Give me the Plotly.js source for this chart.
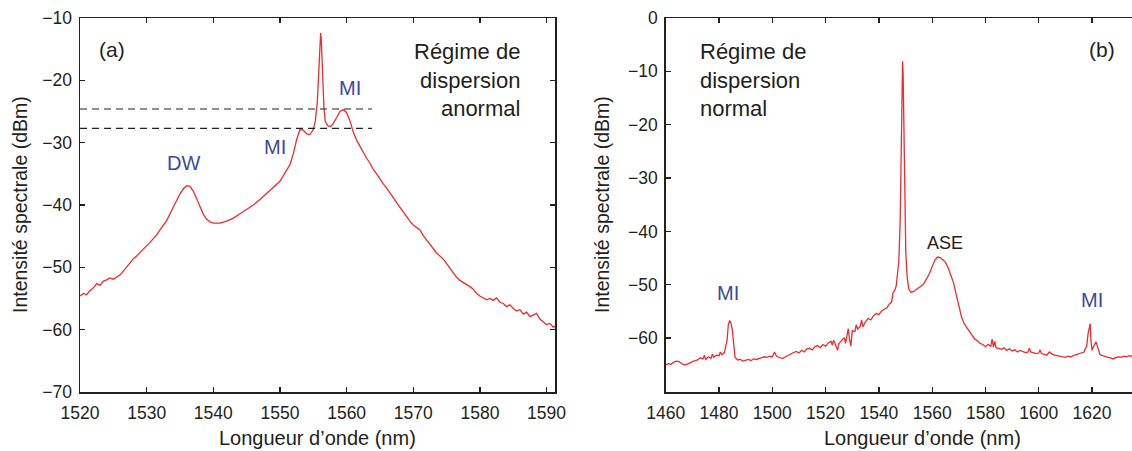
<!DOCTYPE html>
<html>
<head>
<meta charset="utf-8">
<script src="https://cdn.plot.ly/plotly-3.0.1.min.js"></script>
<style>html,body{margin:0;padding:0;background:#fff;}#chart{width:1132px;height:451px;}</style>
</head>
<body>
<div id="chart"></div>
<script>
// ---- Panel (a): anomalous dispersion ----
const wlA = [1520,1520.5,1521,1521.5,1522,1522.5,1523,1523.5,1524,1524.5,1525,1525.5,1526,1526.5,1527,1527.5,1528,1528.5,1529,1529.5,1530,1530.5,1531,1531.5,1532,1532.5,1533,1533.5,1534,1534.5,1535,1535.5,1536,1536.5,1537,1537.5,1538,1538.5,1539,1539.5,1540,1541,1542,1543,1544,1545,1546,1547,1548,1549,1550,1550.5,1551,1551.5,1552,1552.5,1553,1553.5,1554,1554.5,1555,1555.3,1555.6,1555.8,1556,1556.1,1556.2,1556.4,1556.6,1556.8,1557.2,1557.6,1558,1558.5,1559,1559.5,1560,1560.5,1561,1561.5,1562,1562.5,1563,1563.5,1564,1564.5,1565,1565.5,1566,1566.5,1567,1567.5,1568,1568.5,1569,1569.5,1570,1570.5,1571,1571.5,1572,1572.5,1573,1573.5,1574,1574.5,1575,1575.5,1576,1576.5,1577,1577.5,1578,1578.5,1579,1579.5,1580,1580.5,1581,1581.5,1582,1582.5,1583,1583.5,1584,1584.5,1585,1585.5,1586,1586.5,1587,1587.5,1588,1588.5,1589,1589.5,1590,1590.5,1591,1591.3];
const dbA = [-54.6,-54.2,-54.4,-53.7,-53.3,-52.6,-52.9,-52.2,-52.0,-51.7,-51.9,-51.6,-51.2,-50.6,-50.0,-49.3,-48.6,-48.2,-47.6,-47.1,-46.6,-46.0,-45.4,-44.8,-44.0,-43.3,-42.5,-41.4,-40.3,-39.2,-38.2,-37.4,-36.9,-37.0,-37.8,-39.0,-40.3,-41.5,-42.3,-42.7,-42.9,-42.9,-42.6,-42.1,-41.4,-40.7,-40.0,-39.1,-38.1,-37.2,-36.2,-35.3,-34.5,-33.5,-31.8,-29.5,-27.9,-28.0,-28.6,-28.7,-27.9,-26.5,-23.5,-19.5,-13.5,-12.4,-13.5,-19.5,-24.5,-26.6,-27.3,-27.4,-26.9,-26.0,-25.0,-24.7,-25.2,-26.5,-28.3,-29.6,-30.6,-31.6,-32.5,-33.3,-34.3,-35.0,-35.9,-36.6,-37.3,-38.0,-38.8,-39.6,-40.4,-41.0,-41.8,-42.6,-43.2,-43.6,-44.0,-44.9,-45.6,-46.3,-47.0,-47.7,-48.2,-48.7,-49.4,-50.1,-50.8,-51.6,-52.1,-52.4,-52.8,-53.1,-53.5,-54.2,-54.6,-54.9,-55.2,-55.0,-55.3,-54.9,-55.6,-55.8,-56.3,-56.0,-56.6,-57.0,-56.8,-57.5,-57.2,-57.9,-57.6,-57.4,-58.3,-58.8,-59.2,-59.0,-59.6,-59.4];
const dashLevelsA = [-24.6, -27.7];
const dashSpanA = [1520, 1563.8];

// ---- Panel (b): normal dispersion ----
const wlB = [1460,1461,1462,1463,1464,1465,1466,1467,1468,1469,1470,1471,1472,1473,1474,1474.5,1475,1476,1477,1477.5,1478,1479,1480,1480.5,1481,1482,1482.5,1483,1483.5,1484,1484.5,1485,1485.5,1486,1487,1488,1489,1490,1491,1492,1493,1494,1495,1496,1497,1498,1499,1500,1500.8,1501.5,1502,1503,1504,1505,1506,1507,1508,1509,1510,1511,1512,1513,1514,1515,1516,1517,1518,1519,1520,1521,1522,1522.5,1523,1524,1524.5,1525,1526,1527,1527.5,1528,1528.5,1529,1529.5,1530,1531,1531.5,1532,1533,1533.5,1534,1535,1536,1537,1538,1539,1540,1541,1542,1543,1544,1544.8,1545.3,1546,1546.5,1547,1547.5,1548,1548.4,1548.7,1548.9,1549.1,1549.4,1549.7,1550.1,1550.6,1551.2,1552,1553,1554,1555,1556,1557,1558,1559,1560,1561,1562,1563,1564,1565,1566,1567,1568,1569,1570,1571,1572,1573,1574,1575,1576,1577,1578,1579,1580,1581,1582,1582.5,1583,1583.5,1584,1585,1586,1587,1588,1589,1590,1591,1592,1593,1594,1595,1596,1596.5,1597,1598,1599,1600,1600.5,1601,1602,1603,1604,1605,1606,1607,1608,1609,1610,1611,1612,1613,1614,1615,1616,1617,1617.5,1618,1618.5,1619,1619.3,1619.6,1620,1620.5,1621,1621.5,1622,1622.5,1623,1624,1625,1626,1627,1628,1629,1630,1631,1632,1633,1634,1635];
const dbB = [-65.0,-64.8,-64.9,-64.5,-64.3,-64.4,-64.8,-65.0,-64.9,-64.6,-64.4,-64.2,-64.1,-63.7,-63.9,-63.2,-64.0,-63.5,-63.8,-63.0,-63.6,-63.2,-63.3,-62.6,-63.1,-62.7,-61.5,-60.5,-57.5,-56.7,-57.2,-58.5,-61.0,-63.6,-64.1,-64.0,-64.3,-64.1,-64.0,-64.2,-63.9,-64.0,-63.8,-63.7,-63.5,-63.6,-63.4,-63.5,-62.6,-63.3,-63.5,-63.7,-63.8,-63.5,-63.2,-63.0,-62.7,-62.5,-62.8,-62.3,-62.6,-62.0,-61.9,-62.2,-61.6,-61.4,-61.8,-61.2,-61.5,-60.9,-60.6,-61.3,-60.4,-61.6,-62.3,-61.0,-60.5,-59.9,-61.0,-59.5,-58.2,-60.3,-61.5,-58.6,-58.8,-57.5,-58.3,-57.8,-56.6,-57.9,-56.9,-56.3,-56.6,-55.8,-55.4,-55.6,-54.9,-54.6,-54.3,-53.6,-53.2,-51.5,-51.0,-50.2,-48.0,-45.5,-38.0,-20.0,-10.5,-8.1,-10.5,-22.0,-35.0,-44.0,-48.5,-50.8,-51.4,-51.3,-50.9,-50.6,-50.2,-49.7,-48.9,-47.9,-46.6,-45.4,-44.8,-44.9,-45.3,-45.8,-46.8,-48.2,-49.6,-51.8,-54.0,-56.0,-57.3,-58.1,-58.9,-59.5,-60.2,-60.5,-61.0,-61.2,-61.6,-61.2,-61.5,-60.2,-61.7,-60.6,-61.8,-61.9,-62.1,-61.8,-62.3,-62.0,-62.4,-62.2,-62.6,-62.3,-62.5,-62.7,-62.6,-61.9,-62.6,-62.7,-62.9,-62.8,-62.2,-62.9,-63.0,-63.2,-62.6,-63.0,-63.2,-63.3,-63.4,-63.5,-63.6,-63.4,-63.5,-63.3,-63.1,-63.0,-62.8,-62.6,-62.0,-61.5,-59.2,-58.2,-57.3,-60.5,-62.3,-61.6,-61.0,-60.7,-61.5,-62.6,-63.1,-63.3,-63.5,-63.6,-63.7,-63.9,-63.6,-63.5,-63.6,-63.4,-63.5,-63.3,-63.4];

const xTicksA = [1520,1530,1540,1550,1560,1570,1580,1590];
const yTicksA = [-70,-60,-50,-40,-30,-20,-10];
const xTicksB = [1460,1480,1500,1520,1540,1560,1580,1600,1620];
const yTicksB = [-60,-50,-40,-30,-20,-10,0];

const FONT = 'Liberation Sans, Arial, Helvetica, sans-serif';
const DARK = '#231f20';
const BLUE = '#3b4a9e';
const RED = '#ee2b2f';

const traces = [
  {x: wlA, y: dbA, xaxis: 'x', yaxis: 'y', mode: 'lines', line: {color: RED, width: 1.3}, hoverinfo: 'skip'},
  {x: dashSpanA, y: [dashLevelsA[0], dashLevelsA[0]], xaxis: 'x', yaxis: 'y', mode: 'lines', line: {color: DARK, width: 1.1, dash: '7px,5px'}},
  {x: dashSpanA, y: [dashLevelsA[1], dashLevelsA[1]], xaxis: 'x', yaxis: 'y', mode: 'lines', line: {color: DARK, width: 1.1, dash: '7px,5px'}},
  {x: wlB, y: dbB, xaxis: 'x2', yaxis: 'y2', mode: 'lines', line: {color: RED, width: 1.3}, hoverinfo: 'skip'}
];

const axBase = {
  showgrid: false, zeroline: false, showline: true, linecolor: DARK, linewidth: 1.5,
  ticks: 'inside', ticklen: 5, tickwidth: 1.3, tickcolor: DARK,
  tickfont: {family: FONT, size: 17.5, color: DARK}, fixedrange: true
};

function ann(text, x, y, xref, yref, opts) {
  return Object.assign({text: text, x: x, y: y, xref: xref, yref: yref, showarrow: false,
    xanchor: 'center', yanchor: 'middle',
    font: {family: FONT, size: 21, color: DARK}}, opts || {});
}

const minus = v => v < 0 ? '\u2212' + Math.abs(v) : String(v);
const xTitleY = (392 - 438) / 374;

const layout = {
  width: 1132, height: 451,
  margin: {l: 0, r: 0, t: 18, b: 59, pad: 0},
  paper_bgcolor: '#fff', plot_bgcolor: '#fff',
  showlegend: false,
  xaxis: Object.assign({}, axBase, {domain: [0.0707, 0.4905], range: [1520, 1591.3], tickvals: xTicksA, mirror: 'ticks', anchor: 'y', ticklabelstandoff: 4}),
  yaxis: Object.assign({}, axBase, {domain: [0, 1], range: [-70, -10], tickvals: yTicksA, ticktext: yTicksA.map(minus), mirror: 'ticks', anchor: 'x', ticklabelstandoff: 3}),
  xaxis2: Object.assign({}, axBase, {domain: [0.5881, 1], range: [1460, 1635], tickvals: xTicksB, mirror: 'ticks', anchor: 'y2', ticklabelstandoff: 4}),
  yaxis2: Object.assign({}, axBase, {domain: [0, 1], range: [-70.1, 0], tickvals: yTicksB, ticktext: yTicksB.map(minus), mirror: false, anchor: 'x2', ticklabelstandoff: 3}),
  annotations: [
    ann('(a)', 1524.8, -15.1, 'x', 'y'),
    ann('Régime de<br>dispersion<br>anormal', 1586.3, -19.95, 'x', 'y', {xanchor: 'right', align: 'right', font: {family: FONT, size: 22, color: DARK}}),
    ann('DW', 1535.5, -33.3, 'x', 'y', {font: {family: FONT, size: 20, color: BLUE}}),
    ann('MI', 1549.25, -30.7, 'x', 'y', {font: {family: FONT, size: 20, color: BLUE}}),
    ann('MI', 1560.5, -21.2, 'x', 'y', {font: {family: FONT, size: 20, color: BLUE}}),
    ann('(b)', 1623.8, -5.9, 'x2', 'y2'),
    ann('Régime de<br>dispersion<br>normal', 1472.1, -11.6, 'x2', 'y2', {xanchor: 'left', align: 'left', font: {family: FONT, size: 22, color: DARK}}),
    ann('MI', 1483.4, -51.5, 'x2', 'y2', {font: {family: FONT, size: 20, color: BLUE}}),
    ann('ASE', 1564.9, -42.1, 'x2', 'y2', {font: {family: FONT, size: 18, color: DARK}}),
    ann('MI', 1620.0, -52.8, 'x2', 'y2', {font: {family: FONT, size: 20, color: BLUE}}),
    ann('Longueur d\u2019onde (nm)', 317 / 1132, xTitleY, 'paper', 'paper', {font: {family: FONT, size: 20, color: DARK}}),
    ann('Longueur d\u2019onde (nm)', 922 / 1132, xTitleY, 'paper', 'paper', {font: {family: FONT, size: 20, color: DARK}}),
    ann('Intensité spectrale (dBm)', 20 / 1132, 0.5, 'paper', 'paper', {textangle: -90, font: {family: FONT, size: 19.5, color: DARK}}),
    ann('Intensité spectrale (dBm)', 602 / 1132, 0.5, 'paper', 'paper', {textangle: -90, font: {family: FONT, size: 19.5, color: DARK}})
  ]
};

Plotly.newPlot('chart', traces, layout, {displayModeBar: false, staticPlot: true});
</script>
</body>
</html>
